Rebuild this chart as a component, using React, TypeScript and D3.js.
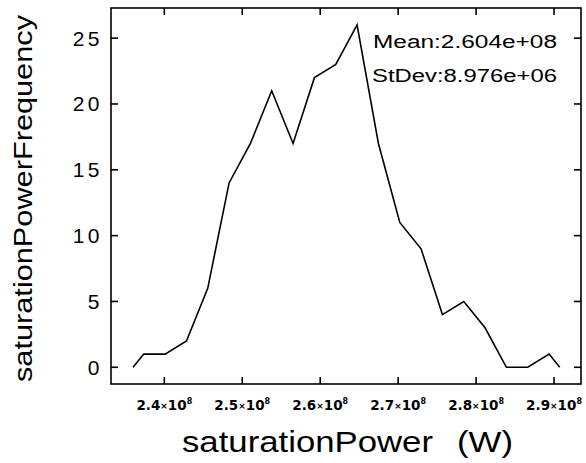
import React from "react";
import * as d3 from "d3";

const binCenters = [
  2.3736e8, 2.401e8, 2.4284e8, 2.4557e8, 2.4831e8, 2.5105e8, 2.5378e8, 2.5652e8,
  2.5926e8, 2.62e8, 2.6473e8, 2.6747e8, 2.7021e8, 2.7294e8, 2.7568e8, 2.7842e8,
  2.8115e8, 2.8389e8, 2.8663e8, 2.8937e8,
];
const counts = [1, 1, 2, 6, 14, 17, 21, 17, 22, 23, 26, 17, 11, 9, 4, 5, 3, 0, 0, 1];
const rangeMin = 2.3599e8;
const rangeMax = 2.9073e8;
const xTicks = [2.4e8, 2.5e8, 2.6e8, 2.7e8, 2.8e8, 2.9e8];
const xTickMantissa = ["2.4", "2.5", "2.6", "2.7", "2.8", "2.9"];
const yTicks = [0, 5, 10, 15, 20, 25];
const statsLines = ["Mean:2.604e+08", "StDev:8.976e+06"];
const xTitleParts = ["saturationPower", "(W)"];
const yTitle = "saturationPowerFrequency";

export default function App() {
  const W = 586, H = 463;
  const left = 111, right = 581, top = 8, bottom = 384;
  const x = d3.scaleLinear().domain([2.3316e8, 2.9346e8]).range([left, right]);
  const y = d3.scaleLinear().domain([-1.27, 27.29]).range([bottom, top]);

  const pts: [number, number][] = [
    [rangeMin, 0],
    ...binCenters.map((c, i) => [c, counts[i]] as [number, number]),
    [rangeMax, 0],
  ];
  const line = d3.line<[number, number]>().x((d) => x(d[0])).y((d) => y(d[1]));
  const tl = 7;
  const font = "'Liberation Sans', Arial, sans-serif";
  const font2 = "'DejaVu Sans', sans-serif";

  return (
    <svg width={W} height={H} style={{ position: "absolute", left: 0, top: 0, background: "#fff" }}>
      <rect x={0} y={0} width={W} height={H} fill="#fff" />
      <path d={line(pts) || ""} fill="none" stroke="#000" strokeWidth={1.6} strokeLinejoin="miter" />
      <rect x={left} y={top} width={right - left} height={bottom - top} fill="none" stroke="#000" strokeWidth={1.6} />
      {xTicks.map((t) => (
        <g key={"xt" + t}>
          <line x1={x(t)} x2={x(t)} y1={bottom} y2={bottom - tl} stroke="#000" strokeWidth={1.6} />
          <line x1={x(t)} x2={x(t)} y1={top} y2={top + tl} stroke="#000" strokeWidth={1.6} />
        </g>
      ))}
      {yTicks.map((t) => (
        <g key={"yt" + t}>
          <line x1={left} x2={left + tl} y1={y(t)} y2={y(t)} stroke="#000" strokeWidth={1.6} />
          <line x1={right} x2={right - tl} y1={y(t)} y2={y(t)} stroke="#000" strokeWidth={1.6} />
          <text x={103} y={y(t) + 7.5} textAnchor="end" fontFamily={font} fontSize={21} letterSpacing={3.5} fill="#000">
            {t}
          </text>
        </g>
      ))}
      {xTicks.map((t, i) => (
        <text key={"xl" + t} x={x(t)} y={410} textAnchor="middle" fontFamily={font2} fontWeight="bold" fontSize={13.5} fill="#000">
          <tspan>{xTickMantissa[i]}</tspan>
          <tspan fontSize={9} dy={-1}>×</tspan>
          <tspan dy={1}>10</tspan>
          <tspan fontSize={8} dy={-6}>8</tspan>
        </text>
      ))}
      <text x={373} y={48} fontFamily={font} fontSize={18} textLength={184} lengthAdjust="spacingAndGlyphs" fill="#000">
        {statsLines[0]}
      </text>
      <text x={372} y={82} fontFamily={font} fontSize={18} textLength={185} lengthAdjust="spacingAndGlyphs" fill="#000">
        {statsLines[1]}
      </text>
      <text y={452} fontFamily={font} fontSize={29} fill="#000">
        <tspan x={182} textLength={251} lengthAdjust="spacingAndGlyphs">{xTitleParts[0]}</tspan>
        <tspan x={457} textLength={56} lengthAdjust="spacingAndGlyphs">{xTitleParts[1]}</tspan>
      </text>
      <text
        transform={`translate(32,${382}) rotate(-90)`}
        x={0}
        y={0}
        fontFamily={font}
        fontSize={25}
        textLength={367}
        lengthAdjust="spacingAndGlyphs"
        fill="#000"
      >
        {yTitle}
      </text>
    </svg>
  );
}
